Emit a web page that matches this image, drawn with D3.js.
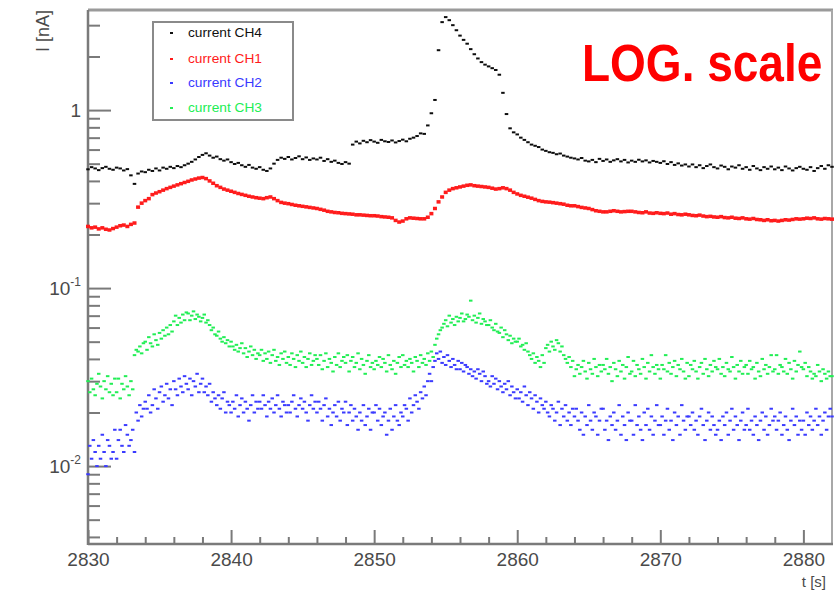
<!DOCTYPE html>
<html>
<head>
<meta charset="utf-8">
<script src="https://cdn.jsdelivr.net/npm/d3@7/dist/d3.min.js"></script>
<style>
  html, body { margin: 0; padding: 0; background: #fff; }
  svg { display: block; font-family: "Liberation Sans", Arial, Helvetica, sans-serif; }
</style>
</head>
<body>
<svg id="chart" width="837" height="592"></svg>
<script>
// all currents in pA, samples start at t = 2830 s, one row = 2 s
const t0 = 2830;
const dtSlow = 0.25;   // CH4, CH1
const dtFast = 0.125;  // CH2, CH3

const ch4 = [
  465, 478, 470, 460, 472, 480, 468, 462,
  475, 470, 458, 466, 430, 385, 440, 452,
  448, 462, 455, 470, 458, 475, 468, 480,
  472, 485, 478, 490, 500, 512, 528, 545,
  560, 572, 555, 540, 548, 530, 520, 528,
  510, 498, 505, 490, 480, 492, 475, 468,
  478, 462, 455, 470, 500, 525, 540, 532,
  545, 528, 538, 550, 530, 542, 525, 535,
  528, 540, 518, 530, 512, 520, 505, 498,
  510, 500, 640, 665, 650, 672, 660, 678,
  665, 655, 680, 668, 662, 675, 658, 670,
  682, 668, 690, 700, 715, 740, 735, 820,
  960, 1140, 2170, 3120, 3330, 3200, 3000, 2810,
  2620, 2480, 2360, 2200, 2060, 1950, 1860, 1800,
  1760, 1720, 1680, 1580, 1250, 950, 790, 750,
  730, 700, 680, 660, 640, 630, 620, 600,
  590, 580, 575, 565, 570, 555, 548, 540,
  535, 528, 538, 520, 515, 525, 510, 532,
  518, 528, 512, 522, 530, 515, 525, 508,
  520, 512, 526, 515, 522, 508, 518, 512,
  505, 516, 498, 510, 492, 502, 488, 495,
  482, 495, 478, 490, 472, 485, 495, 478,
  470, 488, 480, 465, 482, 475, 490, 468,
  478, 462, 485, 470, 460, 478, 468, 482,
  465, 475, 460, 482, 470, 458, 472, 480,
  468, 462, 478, 455, 472, 485, 468, 490,
  480
];

const ch1 = [
  222, 218, 220, 215, 218, 214, 212, 216,
  220, 224, 226, 222, 228, 232, 285, 300,
  310, 318, 335, 342, 348, 355, 362, 368,
  374, 380, 386, 392, 398, 405, 410, 415,
  418, 412, 400, 388, 376, 368, 360, 355,
  350, 345, 340, 336, 332, 328, 325, 322,
  320, 318, 322, 325, 318, 310, 303, 300,
  298, 295, 292, 290, 288, 286, 284, 282,
  280, 277, 274, 270, 268, 266, 265, 263,
  262, 261, 260, 258, 258, 257, 256, 255,
  255, 254, 252, 251, 250, 248, 240, 235,
  238, 245, 248, 247, 246, 245, 245, 250,
  262, 280, 305, 325, 345, 355, 362, 366,
  370, 374, 378, 380, 376, 374, 372, 370,
  368, 364, 360, 362, 366, 362, 355, 345,
  338, 332, 328, 324, 320, 315, 310, 307,
  305, 304, 302, 300, 298, 296, 292, 290,
  290, 287, 284, 282, 280, 276, 272, 270,
  268, 268, 270, 272, 270, 268, 269, 270,
  270, 268, 266, 265, 268, 264, 263, 265,
  263, 262, 264, 260, 262, 259, 258, 260,
  258, 256, 255, 257, 254, 252, 253, 251,
  250, 252, 249, 248, 250, 247, 246, 248,
  245, 244, 246, 243, 242, 240, 242, 239,
  240, 238, 240, 242, 241, 243, 245, 244,
  245, 247, 246, 248, 245, 244, 246, 245,
  244
];

const ch2 = [
  9, 13, 11, 14, 12, 10, 13, 11, 15, 12, 10, 14, 13, 11, 12, 16,
  11, 14, 16, 13, 12, 17, 15, 13, 14, 16, 12, 20, 18, 22, 19, 21,
  23, 21, 25, 20, 22, 27, 24, 21, 26, 28, 23, 25, 29, 24, 27, 22,
  30, 27, 25, 31, 28, 26, 32, 29, 27, 31, 25, 30, 28, 33, 26, 29,
  31, 26, 28, 25, 29, 23, 26, 24, 22, 25, 21, 24, 26, 20, 23, 22,
  20, 23, 21, 25, 19, 22, 24, 20, 23, 21, 18, 22, 25, 20, 23, 21,
  23, 21, 25, 22, 19, 23, 21, 24, 20, 22, 25, 21, 19, 23, 22, 20,
  22, 20, 23, 25, 21, 19, 22, 24, 21, 23, 20, 18, 22, 25, 21, 23,
  20, 23, 21, 18, 22, 24, 19, 21, 17, 20, 22, 19, 23, 18, 21, 20,
  23, 17, 20, 22, 18, 21, 19, 16, 20, 18, 22, 17, 19, 21, 16, 20,
  20, 22, 18, 21, 17, 19, 20, 15, 18, 21, 16, 19, 22, 18, 17, 20,
  19, 22, 21, 18, 24, 20, 22, 25, 23, 21, 26, 24, 28, 25, 30, 33,
  30, 36, 39, 43, 40, 44, 38, 41, 37, 42, 39, 36, 40, 37, 35, 39,
  35, 38, 34, 37, 36, 33, 35, 32, 34, 31, 35, 33, 30, 34, 32, 29,
  30, 28, 32, 29, 31, 27, 30, 28, 26, 29, 27, 30, 25, 28, 26, 24,
  27, 24, 26, 23, 28, 25, 22, 26, 24, 21, 25, 23, 20, 24, 22, 21,
  23, 20, 19, 22, 21, 18, 20, 23, 17, 21, 19, 22, 18, 20, 17, 21,
  19, 21, 18, 16, 20, 15, 19, 17, 22, 18, 16, 20, 19, 15, 18, 21,
  21, 16, 18, 14, 19, 17, 20, 16, 18, 22, 15, 19, 17, 14, 20, 18,
  18, 15, 22, 17, 19, 16, 14, 20, 17, 21, 16, 19, 15, 18, 22, 17,
  17, 19, 15, 18, 21, 16, 18, 14, 20, 17, 19, 15, 22, 18, 16, 19,
  19, 17, 20, 16, 18, 15, 19, 21, 17, 14, 18, 20, 16, 19, 17, 15,
  16, 18, 14, 19, 17, 20, 15, 18, 21, 16, 19, 17, 14, 18, 20, 16,
  17, 21, 16, 18, 15, 19, 17, 14, 18, 20, 16, 19, 15, 17, 21, 18,
  19, 16, 18, 20, 15, 17, 19, 16, 14, 18, 21, 17, 19, 15, 18, 16,
  18, 15, 20, 17, 19, 16, 18, 21, 17, 19, 15, 18, 20, 16, 19, 21,
  19
];

const ch3 = [
  30, 26, 31, 27, 25, 29, 33, 28, 24, 30, 27, 32, 26, 29, 25, 31,
  26, 31, 24, 29, 27, 32, 28, 25, 30, 27, 42, 45, 44, 47, 43, 49,
  50, 45, 53, 49, 47, 55, 51, 48, 56, 52, 58, 54, 60, 55, 62, 57,
  65, 70, 62, 68, 64, 71, 66, 73, 72, 66, 70, 74, 67, 71, 69, 65,
  68, 71, 64, 66, 62, 58, 60, 55, 54, 57, 52, 50, 53, 49, 51, 47,
  50, 47, 45, 48, 44, 46, 49, 43, 46, 41, 44, 47, 42, 45, 40, 43,
  42, 45, 39, 43, 40, 44, 38, 42, 45, 39, 41, 37, 43, 40, 44, 38,
  41, 37, 43, 40, 36, 42, 39, 44, 38, 41, 36, 40, 43, 37, 39, 42,
  40, 37, 42, 35, 39, 43, 36, 40, 38, 34, 41, 37, 43, 36, 39, 41,
  38, 42, 34, 39, 41, 36, 38, 43, 35, 40, 37, 33, 39, 42, 36, 38,
  35, 39, 37, 41, 36, 40, 38, 34, 42, 37, 35, 39, 33, 38, 41, 36,
  42, 37, 39, 36, 40, 38, 34, 41, 39, 36, 42, 38, 40, 37, 43, 39,
  44, 41, 48, 52, 55, 58, 60, 63, 66, 61, 70, 64, 67, 62, 69, 65,
  68, 72, 65, 67, 71, 69, 85, 66, 70, 64, 68, 72, 63, 67, 65, 62,
  62, 66, 60, 58, 63, 57, 56, 60, 53, 58, 55, 51, 54, 49, 52, 50,
  50, 52, 47, 48, 45, 49, 44, 42, 40, 43, 38, 41, 39, 36, 42, 38,
  46, 48, 44, 50, 47, 45, 51, 49, 44, 47, 42, 40, 38, 41, 36, 39,
  32, 35, 37, 33, 36, 39, 34, 31, 38, 35, 33, 40, 36, 32, 37, 34,
  37, 35, 40, 33, 36, 30, 38, 35, 32, 39, 34, 37, 31, 36, 41, 33,
  34, 39, 32, 37, 35, 33, 40, 36, 31, 38, 34, 42, 36, 33, 37, 35,
  31, 37, 35, 42, 34, 38, 33, 36, 39, 32, 37, 35, 40, 34, 31, 38,
  32, 37, 35, 39, 34, 31, 36, 38, 33, 40, 35, 32, 37, 34, 39, 36,
  35, 40, 33, 36, 32, 38, 35, 34, 41, 36, 31, 37, 34, 39, 33, 36,
  37, 33, 39, 35, 36, 31, 38, 34, 32, 40, 35, 37, 33, 36, 42, 34,
  35, 42, 33, 37, 36, 34, 40, 33, 38, 35, 31, 39, 34, 37, 44, 36,
  35, 38, 32, 36, 34, 31, 33, 32, 37, 34, 30, 35, 33, 31, 34, 32,
  32
];

const seriesNames = ["current CH4", "current CH1", "current CH2", "current CH3"];
const seriesColors = ["#111111", "#ff1a1a", "#3a3aff", "#22ee55"];
const seriesData = [ch4, ch1, ch2, ch3];
const seriesStep = [dtSlow, dtSlow, dtFast, dtFast];

const xMajor = [2830, 2840, 2850, 2860, 2870, 2880];
const yMajor = [0.01, 0.1, 1];
const yMajorLabels = [["10", "-2"], ["10", "-1"], ["1", ""]];

const svg = d3.select("#chart");
const W = 837, H = 592;
const padL = 88, padR = 832, padT = 10, padB = 544;

const x = d3.scaleLinear().domain([2830, 2882]).range([padL, padR]);
const y = d3.scaleLog().domain([0.00365, 3.65]).range([padB, padT]);

svg.append("rect").attr("width", W).attr("height", H).attr("fill", "#fff");

const defs = svg.append("defs");
defs.append("filter").attr("id", "soft")
    .append("feGaussianBlur").attr("stdDeviation", 0.5);

// minor ticks: 2 s on x, 2..9 per decade on y
const xMinor = d3.range(2832, 2882, 2).filter(v => v % 10 !== 0);
const yMinor = [];
[0.001, 0.01, 0.1, 1].forEach(d => {
      for (let k = 2; k <= 9; k++) {
            const v = +(d * k).toPrecision(3);
            if (v > y.domain()[0] && v < y.domain()[1]) yMinor.push(v);
      }
});

const axisColor = "#7a7a7a";

function styleAxis(g) {
      g.select(".domain").remove();
      g.selectAll(".tick line").attr("stroke", axisColor).attr("stroke-width", 2);
}

svg.append("g").attr("transform", `translate(0,${padB})`)
      .call(d3.axisBottom(x).tickValues(xMinor).tickSize(-7).tickFormat(""))
      .call(styleAxis);

svg.append("g").attr("transform", `translate(0,${padB})`)
      .call(d3.axisBottom(x).tickValues(xMajor).tickSize(-14).tickPadding(9).tickFormat(d3.format("d")))
      .call(styleAxis)
      .call(g => g.selectAll(".tick text")
            .attr("fill", "#4a4a4a").attr("font-size", 19).attr("dy", "0.71em"));

svg.append("g").attr("transform", `translate(${padL},0)`)
      .call(d3.axisLeft(y).tickValues(yMinor).tickSize(-12).tickFormat(""))
      .call(styleAxis);

const yAxisG = svg.append("g").attr("transform", `translate(${padL},0)`)
      .call(d3.axisLeft(y).tickValues(yMajor).tickSize(-23).tickPadding(7).tickFormat(""))
      .call(styleAxis);

yAxisG.selectAll(".tick text").each(function (d, i) {
      const lab = yMajorLabels[i];
      const t = d3.select(this).attr("fill", "#4a4a4a").attr("font-size", 19).attr("dy", "0.36em");
      t.append("tspan").text(lab[0]);
      if (lab[1]) t.append("tspan").attr("font-size", 12).attr("dy", "-0.75em").text(lab[1]);
});

// frame
svg.append("line").attr("x1", padL).attr("x2", padR + 1).attr("y1", padT).attr("y2", padT)
      .attr("stroke", "#9a9a9a").attr("stroke-width", 3);
svg.append("line").attr("x1", padR).attr("x2", padR).attr("y1", padT).attr("y2", padB)
      .attr("stroke", "#a8a8a8").attr("stroke-width", 2);
svg.append("line").attr("x1", padL).attr("x2", padL).attr("y1", padT).attr("y2", padB + 1)
      .attr("stroke", axisColor).attr("stroke-width", 2.5);
svg.append("line").attr("x1", padL).attr("x2", padR + 1).attr("y1", padB).attr("y2", padB)
      .attr("stroke", axisColor).attr("stroke-width", 2.5);

// axis titles
svg.append("text")
      .attr("transform", "translate(49,10) rotate(-90)")
      .attr("text-anchor", "end")
      .attr("font-size", 18)
      .attr("fill", "#4a4a4a")
      .text("I [nA]");

svg.append("text")
      .attr("x", 826).attr("y", 587)
      .attr("text-anchor", "end")
      .attr("font-size", 15)
      .attr("fill", "#4a4a4a")
      .text("t [s]");

// markers
const plot = svg.append("g").attr("filter", "url(#soft)");
seriesData.forEach((vals, s) => {
      const w = s === 1 ? 4 : 3.5, h = s === 1 ? 3.5 : 2;
      plot.append("g").attr("fill", seriesColors[s])
            .selectAll("rect")
            .data(vals.map((v, i) => ({ t: t0 + i * seriesStep[s], v: v / 1000 })))
            .join("rect")
            .attr("x", d => x(d.t) - w / 2)
            .attr("y", d => y(d.v) - h / 2)
            .attr("width", w)
            .attr("height", h);
});

// legend
const legend = svg.append("g");
legend.append("rect")
      .attr("x", 153).attr("y", 22).attr("width", 140).attr("height", 98)
      .attr("fill", "#fff").attr("stroke", "#8a8a8a").attr("stroke-width", 2);
const legendRows = [33, 59, 83, 108];
seriesNames.forEach((name, i) => {
      legend.append("rect")
            .attr("x", 170).attr("y", legendRows[i] - 1)
            .attr("width", 3).attr("height", 2)
            .attr("fill", seriesColors[i]);
      legend.append("text")
            .attr("x", 188).attr("y", legendRows[i])
            .attr("dy", "0.35em")
            .attr("font-size", 12)
            .attr("textLength", 74)
            .attr("lengthAdjust", "spacingAndGlyphs")
            .attr("fill", seriesColors[i])
            .text(name);
});

// annotation, stretched a bit vertically like the narrower original font
svg.append("text")
      .attr("transform", "translate(582,81) scale(1,1.13)")
      .attr("font-size", 46)
      .attr("font-weight", "bold")
      .attr("fill", "#ff0000")
      .text("LOG. scale");
</script>
</body>
</html>
